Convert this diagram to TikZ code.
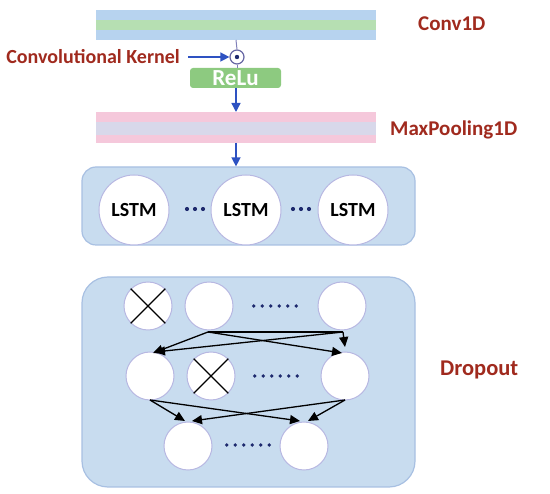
\documentclass[tikz,border=0pt]{standalone}
\usepackage{fontspec}
\setmainfont{Carlito}
\usetikzlibrary{arrows.meta}
\definecolor{barblue}{HTML}{B7D3EF}
\definecolor{bargreen}{HTML}{B6DFB2}
\definecolor{barpink}{HTML}{F5C8DB}
\definecolor{barlav}{HTML}{D8D8EA}
\definecolor{boxfill}{HTML}{C8DCEF}
\definecolor{boxline}{HTML}{A8C0E2}
\definecolor{circline}{HTML}{B8B8E2}
\definecolor{lblred}{HTML}{A02A1E}
\definecolor{arrblue}{HTML}{2E52C2}
\definecolor{relugreen}{HTML}{8DCA80}
\definecolor{dotnavy}{HTML}{1E2A6E}
\tikzset{
  lbl/.style={text=lblred, font=\bfseries\fontsize{21}{23}\selectfont, inner sep=0pt},
  panel/.style={draw=boxline, line width=1.2pt, fill=boxfill, rounded corners=14pt},
  neuron/.style={circle, draw=circline, line width=1pt, fill=white, minimum size=48pt, inner sep=0pt},
  lstmcell/.style={circle, draw=circline, line width=1pt, fill=white, minimum size=70pt, inner sep=0pt, font=\bfseries\fontsize{20}{22}\selectfont},
  flow/.style={draw=arrblue, line width=1.4pt, -{Triangle[length=9pt,width=9pt]}},
  conn/.style={draw=black, line width=1.3pt, -{Triangle[length=10pt,width=9pt]}},
}
\begin{document}
\begin{tikzpicture}[x=1pt,y=-1pt]
\useasboundingbox (0,0) rectangle (550,494);
% Conv1D bar
\fill[barblue] (96,10) rectangle (376,20);
\fill[bargreen] (96,20) rectangle (376,30);
\fill[barblue] (96,30) rectangle (376,40);
\coordinate (convtop) at (236,40);
\node[lbl, anchor=west] (convlbl) at (418,24) {Conv1D};
% odot
\node[circle, draw=black!60!blue!60, line width=1.2pt, minimum size=14pt, inner sep=0pt, fill=white] (odot) at (237,57) {};
\fill[dotnavy] (odot.center) circle (2.2pt);
\draw[black!55!blue!50, line width=1pt] (convtop) -- (odot.north);
\node[lbl, anchor=east, font=\bfseries\fontsize{20}{22}\selectfont] (kernel) at (180,57) {Convolutional Kernel};
\draw[flow] (kernel.east) ++(8,0) coordinate (kstart) -- (odot.west);
% ReLu
\node[fill=relugreen, rounded corners=3pt, minimum width=91pt, minimum height=20pt, inner sep=0pt, text=white, font=\bfseries\fontsize{23}{23}\selectfont] (relu) at (235.5,78) {ReLu};
\draw[black!55!blue!50, line width=1pt] (odot.south) -- (relu.north -| odot);
% MaxPool bar
\fill[barpink] (96,112) rectangle (376,122);
\fill[barlav] (96,122) rectangle (376,135);
\fill[barpink] (96,135) rectangle (376,143);
\coordinate (pooltop) at (236,112);
\coordinate (poolbot) at (236,143);
\node[lbl, anchor=west] (poollbl) at (390,130) {MaxPooling1D};
\draw[flow] (relu.south -| pooltop) -- (pooltop);
% LSTM panel
\node[panel, minimum width=333pt, minimum height=78pt, inner sep=0pt] (lstmbox) at (248.5,206) {};
\draw[flow] (poolbot) -- (lstmbox.north -| poolbot);
\node[lstmcell] (l1) at (134,210) {LSTM};
\node[lstmcell] (l2) at (246,210) {LSTM};
\node[lstmcell] (l3) at (353,210) {LSTM};
\foreach \n/\x in {ld1/195, ld2/301} {
  \node[inner sep=0pt] (\n) at (\x,209) {\tikz[x=1pt]{\foreach \i in {0,1,2} \fill[dotnavy] (\i*8,0) circle (2.1pt);}};
}
% Dropout panel
\node[panel, rounded corners=26pt, minimum width=333pt, minimum height=210pt, inner sep=0pt] (dropbox) at (248.5,382) {};
\node[lbl, anchor=west, font=\bfseries\fontsize{22.5}{24}\selectfont] (droplbl) at (440,370) {Dropout};
\node[neuron] (t1) at (148,306) {};
\node[neuron] (t2) at (209,306) {};
\node[neuron] (t3) at (342,306) {};
\node[neuron] (m1) at (150,376) {};
\node[neuron] (m2) at (211,376) {};
\node[neuron] (m3) at (345,376) {};
\node[neuron] (b1) at (188,446) {};
\node[neuron] (b2) at (304,446) {};
\draw[line width=1.3pt] (t1.north west) -- (t1.south east) (t1.north east) -- (t1.south west);
\draw[line width=1.3pt] (m2.north west) -- (m2.south east) (m2.north east) -- (m2.south west);
\foreach \n/\x/\y in {d1/275/306, d2/276/376, d3/248/445} {
  \node[inner sep=0pt] (\n) at (\x,\y) {\tikz[x=1pt]{\foreach \i in {0,...,5} \fill[dotnavy] (\i*8.5,0) circle (1.8pt);}};
}
% connections
\coordinate (t2s) at (208,332);
\coordinate (t3s) at (343,332);
\draw[conn] (t2s) -- (153,353);
\draw[conn] (t2s) -- (342,353);
\draw[conn] (t3s) -- (155,352);
\draw[line width=1.3pt] (t2s) -- (t3s);
\draw[conn] (t3s) -- (345,347);
\coordinate (m1s) at (150,400);
\coordinate (m3s) at (345,400);
\draw[conn] (m1s) -- (185,421);
\draw[conn] (m1s) -- (300,421);
\draw[conn] (m3s) -- (192,421);
\draw[conn] (m3s) -- (308,421);
\end{tikzpicture}
\end{document}
